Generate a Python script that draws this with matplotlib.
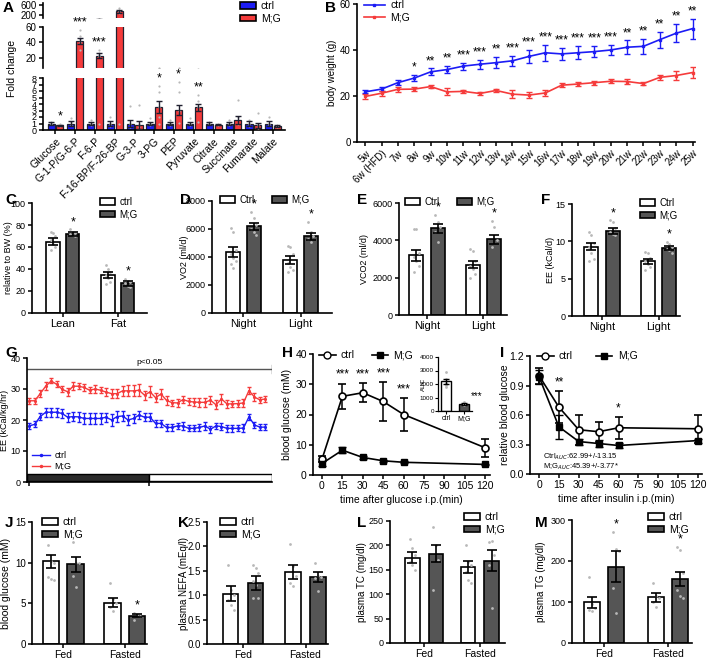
import numpy as np
import matplotlib.pyplot as plt
from matplotlib.patches import Patch, Rectangle
from matplotlib.lines import Line2D

plt.rcParams['font.family'] = ['Liberation Sans', 'DejaVu Sans']
plt.rcParams['font.size'] = 7.5
plt.rcParams['axes.linewidth'] = 1.2
plt.rcParams['xtick.major.width'] = 1.1
plt.rcParams['ytick.major.width'] = 1.1
plt.rcParams['xtick.major.size'] = 3
plt.rcParams['ytick.major.size'] = 3
plt.rcParams['xtick.major.pad'] = 1.5
plt.rcParams['ytick.major.pad'] = 1.5

BLUE = '#1c1cf5'
RED = '#f53b3b'
DARK = '#555555'
DOT = '#b8b8b8'

# ---- A: metabolites fold change
metabolites = ['Glucose', 'G-1-P/G-6-P', 'F-6-P', 'F-16-BP/F-26-BP', 'G-3-P', '3-PG',
               'PEP', 'Pyruvate', 'Citrate', 'Succinate', 'Fumarate', 'Malate']
a_ctrl = [1.0, 1.0, 1.0, 1.0, 1.0, 1.0, 1.0, 1.0, 1.0, 1.0, 1.0, 1.0]
a_ctrl_err = [0.25, 0.35, 0.25, 0.45, 0.6, 0.3, 0.25, 0.3, 0.2, 0.25, 0.35, 0.4]
a_mg = [0.7, 42, 23, 350, 0.8, 3.5, 3.1, 3.5, 0.8, 1.5, 0.7, 0.6]
a_mg_err = [0.1, 4, 3.5, 50, 0.6, 0.9, 0.8, 0.5, 0.1, 0.6, 0.35, 0.15]
a_ctrl_dots = [[1.2, 1.0, 0.9], [1.9, 1.2, 0.8], [1.5, 1.0, 0.8], [2.0, 1.0, 0.6],
               [3.7, 1.0, 0.4], [1.9, 1.0, 0.7], [1.5, 1.1, 0.8], [1.9, 1.0, 0.7],
               [1.3, 1.0], [1.5, 1.0, 0.8], [1.6, 1.0, 0.6], [2.0, 1.0, 0.7]]
a_mg_dots = [[0.9, 0.7, 0.6], [56, 48, 45, 40, 30], [30, 27, 24, 22, 1.0], [480, 420, 350, 300, 1.0],
             [3.8, 0.9, 0.5], [6.8, 5.8, 3.5, 2.0, 1.0], [7.4, 5.8, 3.0, 1.1], [5.4, 4.5, 3.5, 1.2],
             [0.9, 0.8], [4.6, 2.0, 1.0], [2.6, 0.7, 0.3], [0.8, 0.6, 0.5]]
a_stars = ['*', '***', '***', '***', '', '*', '*', '**', '', '', '', '']

# ---- B: body weight
weeks = ['5w', '6w (HFD)', '7w', '8w', '9w', '10w', '11w', '12w', '13w', '14w', '15w',
         '16w', '17w', '18w', '19w', '20w', '21w', '22w', '23w', '24w', '25w']
bw_ctrl = [21.8, 23.0, 25.8, 27.8, 30.5, 31.5, 33.0, 33.8, 34.5, 35.3, 37.2,
           38.8, 38.3, 38.8, 39.3, 40.0, 41.2, 41.6, 44.5, 47.3, 49.3]
bw_ctrl_err = [0.7, 0.7, 1.2, 1.2, 1.5, 1.5, 1.5, 2.0, 2.5, 2.2, 2.8,
               3.5, 2.5, 2.8, 2.5, 2.2, 3.0, 3.2, 3.5, 4.0, 4.3]
bw_mg = [19.8, 21.2, 22.9, 23.0, 24.1, 21.8, 22.0, 21.1, 22.4, 20.8, 20.4,
         21.3, 24.7, 25.2, 25.8, 26.4, 26.3, 25.4, 28.1, 28.9, 30.2]
bw_mg_err = [1.0, 1.0, 1.0, 1.0, 0.8, 1.5, 0.8, 0.8, 0.8, 1.8, 1.2,
             1.5, 0.8, 0.8, 0.8, 0.8, 1.0, 0.8, 1.2, 1.8, 2.5]
bw_stars = ['', '', '', '*', '**', '**', '***', '***', '**', '***', '***',
            '***', '***', '***', '***', '***', '**', '**', '**', '**', '**']

# ---- C: body composition
comp_groups = ['Lean', 'Fat']
c_ctrl, c_ctrl_err = [65, 34.5], [3, 3]
c_mg, c_mg_err = [72, 27], [2, 2]
c_ctrl_dots = [[74, 73, 70, 66, 63, 60, 57], [44, 40, 37, 35, 32, 28, 26]]
c_mg_dots = [[76, 74, 73, 72, 71, 70], [31, 29, 28, 27, 25, 24]]
c_stars = ['*', '*']

# ---- D/E/F: indirect calorimetry
phase_groups = ['Night', 'Light']
d_ctrl, d_ctrl_err = [4350, 3800], [350, 300]
d_mg, d_mg_err = [6200, 5500], [250, 250]
d_ctrl_dots = [[6100, 5800, 4500, 4200, 3900, 3700, 3500, 3200], [4800, 4700, 4200, 3600, 3300, 3100, 2900]]
d_mg_dots = [[7200, 6800, 6300, 6000, 5800, 5600], [6500, 5800, 5500, 5300, 5100]]
e_ctrl, e_ctrl_err = [3200, 2700], [300, 200]
e_mg, e_mg_err = [4650, 4050], [250, 250]
e_ctrl_dots = [[4600, 4600, 3300, 3100, 2900, 2600, 2300], [3540, 3430, 2900, 2600, 2450, 2200, 2000]]
e_mg_dots = [[5360, 4980, 4710, 4450, 3900], [5040, 4710, 4020, 3640]]
f_ctrl, f_ctrl_err = [9.3, 7.3], [0.5, 0.3]
f_mg, f_mg_err = [11.4, 9.1], [0.4, 0.3]
f_ctrl_dots = [[11.2, 10.8, 9.8, 9.3, 8.5, 7.6, 7.3], [8.6, 8.4, 7.8, 7.3, 7.0, 6.6, 6.2]]
f_mg_dots = [[12.8, 12.6, 11.8, 11.3, 11.0, 10.8], [9.9, 9.7, 9.3, 9.0, 8.8, 8.5]]
def_stars = ['*', '*']

# ---- G: EE time course
g_ctrl = [18.1, 18.6, 21.1, 22.5, 22.5, 22.5, 22.1, 20.9, 21.1, 21.0, 20.5, 20.5, 20.5, 20.5, 20.9, 20.0,
          21.1, 21.3, 20.0, 20.5, 21.6, 20.9, 20.9, 18.9, 18.9, 17.6, 17.6, 18.1, 18.1, 17.3, 17.3, 17.6,
          18.1, 17.0, 18.1, 17.9, 17.3, 17.3, 17.3, 17.4, 21.0, 18.4, 17.7, 17.7]
g_ctrl_err = [1.0, 1.0, 1.2, 1.5, 1.5, 1.5, 1.5, 1.5, 1.5, 1.5, 1.8, 1.8, 1.8, 1.8, 1.5, 2.0,
              1.8, 1.5, 1.5, 1.5, 1.2, 1.2, 1.2, 1.0, 1.2, 1.2, 1.2, 1.0, 1.2, 1.0, 1.0, 1.0,
              1.2, 1.2, 1.0, 1.0, 1.2, 1.2, 1.0, 1.2, 1.0, 1.0, 1.0, 1.0]
g_mg = [26.2, 26.2, 28.5, 30.9, 32.6, 31.5, 29.9, 29.1, 30.9, 30.9, 30.5, 29.6, 30.0, 29.6, 29.0, 28.5,
        28.5, 29.4, 29.4, 29.4, 29.6, 28.0, 29.1, 27.2, 28.4, 26.3, 25.6, 25.5, 26.6, 26.0, 25.8, 25.7,
        25.7, 26.4, 24.9, 26.8, 25.2, 25.2, 25.3, 25.5, 29.5, 27.4, 26.5, 26.8]
g_mg_err = [1.0, 1.0, 1.2, 1.2, 0.8, 1.0, 1.0, 1.2, 1.2, 1.0, 1.2, 1.0, 1.2, 1.0, 1.2, 1.5,
            1.5, 1.5, 1.8, 1.8, 2.0, 1.5, 1.8, 1.5, 1.5, 1.5, 1.0, 1.2, 1.0, 1.2, 1.2, 1.5,
            1.5, 1.2, 1.5, 1.5, 1.2, 1.0, 1.2, 1.2, 1.2, 1.2, 1.0, 1.0]

# ---- H: GTT
gtt_time = [0, 15, 30, 45, 60, 120]
gtt_ctrl = [5.2, 26.0, 27.2, 24.3, 20.0, 9.0]
gtt_ctrl_err = [1.0, 4.2, 3.2, 6.3, 5.5, 3.0]
gtt_mg = [3.8, 8.2, 5.8, 4.7, 4.2, 3.5]
gtt_mg_err = [0.8, 1.0, 0.5, 0.4, 0.3, 0.3]
gtt_stars = ['', '***', '***', '***', '***', '']
auc_groups = ['ctrl', 'M;G']
auc_vals, auc_err = [2200, 500], [180, 60]
auc_dots = [[2900, 2400, 2100, 1900, 1800], [650, 550, 500, 450]]

# ---- I: ITT
itt_time = [0, 15, 30, 45, 60, 120]
itt_ctrl = [1.0, 0.68, 0.45, 0.43, 0.47, 0.46]
itt_ctrl_err = [0.08, 0.16, 0.15, 0.10, 0.11, 0.14]
itt_mg = [0.99, 0.48, 0.33, 0.31, 0.29, 0.34]
itt_mg_err = [0.07, 0.12, 0.03, 0.04, 0.03, 0.02]
itt_stars = ['', '**', '', '', '*', '']

# ---- J-M: fed / fasted
fed_groups = ['Fed', 'Fasted']
j_ctrl, j_ctrl_err = [10.2, 5.1], [0.8, 0.5]
j_mg, j_mg_err = [9.8, 3.5], [0.9, 0.2]
j_ctrl_dots = [[12.2, 10.2, 10.0, 8.2, 8.0, 7.9], [7.5, 5.5, 5.0, 4.5, 4.0]]
j_mg_dots = [[12.6, 10.0, 9.9, 8.3, 7.0], [3.8, 3.6, 3.5, 3.0]]
j_stars = ['', '*']
k_ctrl, k_ctrl_err = [1.03, 1.48], [0.15, 0.14]
k_mg, k_mg_err = [1.25, 1.37], [0.15, 0.1]
k_ctrl_dots = [[1.62, 1.1, 1.0, 0.9, 0.8, 0.7], [2.05, 1.6, 1.4, 1.25, 1.18]]
k_mg_dots = [[1.62, 1.55, 1.45, 1.3, 1.2, 0.95, 0.95], [1.67, 1.4, 1.38, 1.35, 1.08]]
l_ctrl, l_ctrl_err = [175, 156], [12, 13]
l_mg, l_mg_err = [183, 169], [18, 22]
l_ctrl_dots = [[214, 195, 180, 165, 160, 150], [200, 165, 160, 145, 130, 122]]
l_mg_dots = [[237, 200, 170, 108], [207, 208, 180, 160, 72]]
m_ctrl, m_ctrl_err = [99, 111], [13, 10]
m_mg, m_mg_err = [186, 156], [38, 17]
m_ctrl_dots = [[160, 95, 85, 80, 78], [147, 115, 110, 100, 88]]
m_mg_dots = [[270, 230, 225, 135, 72], [235, 228, 170, 130, 115, 110]]
m_stars = ['*', '*']

W, H = 709, 658
fig = plt.figure(figsize=(W / 100, H / 100), dpi=100)


def px_axes(l, t, r, b, ts=7.5):
    ax = fig.add_axes([l / W, 1 - b / H, (r - l) / W, (b - t) / H])
    ax.spines[['top', 'right']].set_visible(False)
    ax.tick_params(labelsize=ts)
    ax.patch.set_visible(False)
    return ax


def ylab(ax, text, xc, size=7.5):
    # xc: horizontal centre of the rotated label, in figure pixels
    ax.set_ylabel(text, fontsize=size)
    pos = ax.get_position()
    ax.yaxis.set_label_coords(xc / W + size * 0.6 / W, pos.y0 + pos.height / 2,
                              transform=fig.transFigure)


def letter(x, y, s):
    fig.text(x / W, 1 - y / H, s, fontsize=11, fontweight='bold', va='top', ha='left')


def legend_at(ax, handles, labels, x, y, ncol=1, hl=1.5, cs=1.5, size=7.5):
    ax.legend(handles, labels, loc='upper left', bbox_to_anchor=(x / W, 1 - y / H),
              bbox_transform=fig.transFigure, ncol=ncol, frameon=False, handlelength=hl,
              handleheight=0.6, handletextpad=0.5, borderpad=0, borderaxespad=0,
              labelspacing=0.25, columnspacing=cs, fontsize=size)


def bar_handles(c1, c2):
    return [Patch(facecolor=c1, edgecolor='black', lw=1.2), Patch(facecolor=c2, edgecolor='black', lw=1.2)]


def bar_panel(ax, groups, cm, ce, mm, me, cd, md, stars, off, width, cols=('white', DARK), xs_size=8):
    x = np.arange(len(groups))
    for sign, m, e, dots, col in [(-1, cm, ce, cd, cols[0]), (1, mm, me, md, cols[1])]:
        xs = x + sign * off
        ax.bar(xs, m, width, color=col, edgecolor='black', linewidth=1.2, zorder=2)
        for xi, d in zip(xs, dots):
            jit = ((np.arange(len(d)) % 3) - 1) * width * 0.18
            ax.scatter(xi + jit, d, s=4, color=DOT, zorder=3, linewidths=0)
        ax.errorbar(xs, m, yerr=e, fmt='none', ecolor='black', elinewidth=1.2,
                    capsize=3.5, capthick=1.2, zorder=4)
    for xi, s, m, e, d in zip(x + off, stars, mm, me, md):
        if s:
            ax.annotate(s, (xi, max(m + e, max(d))), xytext=(0, 1), textcoords='offset points',
                        ha='center', va='bottom', fontsize=9)
    ax.set_xticks(x)
    ax.set_xticklabels(groups, fontsize=xs_size)


# ================= A
a_bot = px_axes(43, 78, 285, 130, 6.5)
a_mid = px_axes(43, 27, 285, 68, 7)
a_top = px_axes(43, 3, 285, 18, 7)
xa = np.arange(len(metabolites))
for ax in (a_bot, a_mid, a_top):
    for sign, m, e, dots, col in [(-1, a_ctrl, a_ctrl_err, a_ctrl_dots, BLUE),
                                  (1, a_mg, a_mg_err, a_mg_dots, RED)]:
        xs = xa + sign * 0.22
        ax.bar(xs, m, 0.36, color=col, edgecolor='#202030', linewidth=0.9, zorder=2)
        for xi, d in zip(xs, dots):
            ax.scatter(np.full(len(d), xi), d, s=2.5, color=DOT, zorder=3, linewidths=0)
        ax.errorbar(xs, m, yerr=e, fmt='none', ecolor='#202030', elinewidth=1.0,
                    capsize=2, capthick=1.0, zorder=4)
    ax.set_xlim(-0.63, 11.6)
a_bot.set_ylim(0, 8)
a_bot.set_yticks(range(9))
a_mid.set_ylim(7, 60)
a_mid.set_yticks([20, 40, 60])
a_top.set_ylim(80, 680)
a_top.set_yticks([200, 600])
for ax in (a_mid, a_top):
    ax.spines['bottom'].set_visible(False)
    ax.set_xticks([])
a_bot.set_xticks(xa)
a_bot.set_xticklabels(metabolites, rotation=45, ha='right', rotation_mode='anchor', fontsize=7.5)
for i, s in enumerate(a_stars):
    if s:
        top = max(a_mg[i] + a_mg_err[i], max(a_mg_dots[i]))
        ax = a_bot if top < 8 else (a_mid if top < 60 else a_top)
        ax.annotate(s, (i + 0.22, top), xytext=(0, 1), textcoords='offset points',
                    ha='center', va='bottom', fontsize=9, annotation_clip=False)
fig.text(12 / W, 1 - 68 / H, 'Fold change', rotation=90, va='center', ha='center', fontsize=7.5)
legend_at(a_top, bar_handles(BLUE, RED), ['ctrl', 'M;G'], 240, 1)
letter(3, 1, 'A')

# ================= B
b = px_axes(357, 4, 695, 142, 7)
xb = np.arange(len(weeks))
b.errorbar(xb, bw_ctrl, yerr=bw_ctrl_err, color=BLUE, marker='s', ms=2, lw=1.2,
           capsize=2, elinewidth=1)
b.errorbar(xb, bw_mg, yerr=bw_mg_err, color=RED, marker='s', ms=2, lw=1.2,
           capsize=2, elinewidth=1)
for i, s in enumerate(bw_stars):
    if s:
        b.annotate(s, (i, bw_ctrl[i] + bw_ctrl_err[i]), xytext=(0, 1), textcoords='offset points',
                   ha='center', va='bottom', fontsize=8.5)
b.set_xlim(-0.5, 20.15)
b.set_ylim(0, 60)
b.set_yticks([0, 20, 40, 60])
b.set_xticks(xb)
b.set_xticklabels(weeks, rotation=45, ha='right', rotation_mode='anchor')
ylab(b, 'body weight (g)', 333, 7)
legend_at(b, [Line2D([], [], color=BLUE, marker='s', ms=2, lw=1.2),
              Line2D([], [], color=RED, marker='s', ms=2, lw=1.2)], ['ctrl', 'M;G'], 364, 0, hl=2)
letter(325, 1, 'B')

# ================= C
c = px_axes(32, 203, 147, 313, 6.5)
bar_panel(c, comp_groups, c_ctrl, c_ctrl_err, c_mg, c_mg_err, c_ctrl_dots, c_mg_dots,
          c_stars, 0.18, 0.24)
c.set_xlim(-0.56, 1.53)
c.set_ylim(0, 100)
c.set_yticks(range(0, 101, 20))
ylab(c, 'relative to BW (%)', 9, 6.5)
legend_at(c, bar_handles('white', DARK), ['ctrl', 'M;G'], 100, 197, size=7)
letter(5, 193, 'C')

# ================= D
d = px_axes(212, 201, 332, 313, 6.5)
bar_panel(d, phase_groups, d_ctrl, d_ctrl_err, d_mg, d_mg_err, d_ctrl_dots, d_mg_dots,
          def_stars, 0.18, 0.25)
d.set_xlim(-0.55, 1.55)
d.set_ylim(0, 8000)
d.set_yticks(range(0, 8001, 2000))
ylab(d, 'VO2 (ml/d)', 185, 6.5)
legend_at(d, bar_handles('white', DARK), ['Ctrl', 'M;G'], 220, 195, ncol=2, cs=1.8, size=7)
letter(180, 193, 'D')

# ================= E
e = px_axes(399, 203, 507, 315, 6.5)
bar_panel(e, phase_groups, e_ctrl, e_ctrl_err, e_mg, e_mg_err, e_ctrl_dots, e_mg_dots,
          def_stars, 0.19, 0.25)
e.set_xlim(-0.5, 1.42)
e.set_ylim(0, 6000)
e.set_yticks(range(0, 6001, 2000))
ylab(e, 'VCO2 (ml/d)', 365, 6.5)
legend_at(e, bar_handles('white', DARK), ['Ctrl', 'M;G'], 405, 197, ncol=2, cs=1.8, size=7)
letter(357, 193, 'E')

# ================= F
f = px_axes(572, 204, 680, 316, 6.5)
bar_panel(f, phase_groups, f_ctrl, f_ctrl_err, f_mg, f_mg_err, f_ctrl_dots, f_mg_dots,
          def_stars, 0.19, 0.25)
f.set_xlim(-0.53, 1.38)
f.set_ylim(0, 15)
f.set_yticks([0, 5, 10, 15])
ylab(f, 'EE (kCal/d)', 551, 6.5)
legend_at(f, bar_handles('white', DARK), ['Ctrl', 'M;G'], 640, 198, size=7)
letter(541, 193, 'F')

# ================= G
g = px_axes(27, 358, 272, 482, 6.5)
xg = np.arange(len(g_ctrl))
g.errorbar(xg, g_mg, yerr=g_mg_err, color=RED, marker='.', ms=2.5, lw=1.0,
           capsize=1.5, elinewidth=0.9)
g.errorbar(xg, g_ctrl, yerr=g_ctrl_err, color=BLUE, marker='.', ms=2.5, lw=1.0,
           capsize=1.5, elinewidth=0.9)
half = len(xg) / 2 - 0.2
x_end = len(xg) + 0.2
g.add_patch(Rectangle((-0.4, 0.3), half + 0.4, 2.4, facecolor='#2b2b2b', edgecolor='black', lw=1))
g.add_patch(Rectangle((half, 0.3), x_end - half, 2.4, facecolor='white', edgecolor='black', lw=1))
g.plot([-0.4, x_end], [36.5, 36.5], color='#555555', lw=1)
g.plot([x_end, x_end], [35.2, 37.8], color='#555555', lw=1)
g.text((x_end - 0.4) / 2, 37.3, 'p<0.05', ha='center', va='bottom', fontsize=6)
g.set_xlim(-0.4, x_end)
g.set_ylim(0, 40)
g.set_yticks([0, 10, 20, 30, 40])
g.set_xticks([0, half])
g.set_xticklabels(['', ''])
ylab(g, 'EE (kCal/kg/hr)', 5, 6.5)
legend_at(g, [Line2D([], [], color=BLUE, marker='.', ms=3, lw=1),
              Line2D([], [], color=RED, marker='.', ms=3, lw=1)], ['ctrl', 'M;G'], 32, 451,
          hl=2, size=6.5)
letter(5, 346, 'G')

# ================= H
h = px_axes(313, 354, 490, 475, 7.5)
h.errorbar(gtt_time, gtt_ctrl, yerr=gtt_ctrl_err, color='black', marker='o', ms=5, mfc='white',
           mew=1.2, lw=1.2, capsize=3, elinewidth=1.1, zorder=3)
h.errorbar(gtt_time, gtt_mg, yerr=gtt_mg_err, color='black', marker='s', ms=5, lw=1.2,
           capsize=3, elinewidth=1.1, zorder=3)
for t, s, m, er in zip(gtt_time, gtt_stars, gtt_ctrl, gtt_ctrl_err):
    if s:
        h.annotate(s, (t, m + er), xytext=(0, 2), textcoords='offset points',
                   ha='center', va='bottom', fontsize=8.5)
h.set_xlim(-6.6, 123.5)
h.set_ylim(0, 40)
h.set_xticks(range(0, 121, 15))
h.set_yticks(range(0, 41, 10))
h.set_xlabel('time after glucose i.p.(min)', labelpad=3)
ylab(h, 'blood glucose (mM)', 287)
legend_at(h, [Line2D([], [], color='black', marker='o', ms=5, mfc='white', lw=1.2),
              Line2D([], [], color='black', marker='s', ms=5, lw=1.2)], ['ctrl', 'M;G'], 319, 350,
          ncol=2, hl=1.6, cs=1.6)
letter(282, 346, 'H')

hi = px_axes(438, 357, 472, 411, 4.5)
xi_ = np.arange(len(auc_groups))
hi.bar(xi_, auc_vals, 0.55, color=['white', DARK], edgecolor='black', lw=1)
for xx, dd in zip(xi_, auc_dots):
    hi.scatter(np.full(len(dd), xx), dd, s=4, color=DOT, zorder=3, linewidths=0)
hi.errorbar(xi_, auc_vals, yerr=auc_err, fmt='none', ecolor='black', elinewidth=1, capsize=2, zorder=4)
hi.annotate('***', (1, auc_vals[1] + auc_err[1]), xytext=(5, 2), textcoords='offset points',
            ha='left', va='bottom', fontsize=7)
hi.set_xlim(-0.45, 1.45)
hi.set_ylim(0, 4000)
hi.set_yticks(range(0, 4001, 1000))
hi.set_xticks(xi_)
hi.set_xticklabels(auc_groups, fontsize=5)
hi.tick_params(length=2, pad=1, width=0.8)
for sp in hi.spines.values():
    sp.set_linewidth(0.9)
ylab(hi, 'AUC', 423, 4.5)

# ================= I
it = px_axes(530, 356, 702, 474, 7.5)
it.errorbar(itt_time, itt_ctrl, yerr=itt_ctrl_err, color='black', marker='o', ms=5, mfc='white',
            mew=1.2, lw=1.2, capsize=3, elinewidth=1.1, zorder=3)
it.errorbar(itt_time, itt_mg, yerr=itt_mg_err, color='black', marker='s', ms=5, lw=1.2,
            capsize=3, elinewidth=1.1, zorder=3)
for t, s, m, er in zip(itt_time, itt_stars, itt_ctrl, itt_ctrl_err):
    if s:
        it.annotate(s, (t, m + er), xytext=(0, 2), textcoords='offset points',
                    ha='center', va='bottom', fontsize=8.5)
it.text(3, 0.175, 'Ctrl$_{AUC}$:62.99+/-13.15', fontsize=5.5, va='center')
it.text(3, 0.075, 'M;G$_{AUC}$:45.39+/-3.77*', fontsize=5.5, va='center')
it.set_xlim(-6.8, 123)
it.set_ylim(0, 1.2)
it.set_yticks([0, 0.3, 0.6, 0.9, 1.2])
it.set_yticklabels(['0.0', '0.3', '0.6', '0.9', '1.2'])
it.set_xticks(range(0, 121, 15))
it.set_xlabel('time after insulin i.p.(min)', labelpad=3)
ylab(it, 'relative blood glucose', 506)
legend_at(it, [Line2D([], [], color='black', marker='o', ms=5, mfc='white', lw=1.2),
               Line2D([], [], color='black', marker='s', ms=5, lw=1.2)], ['ctrl', 'M;G'], 537, 351,
          ncol=2, hl=1.6, cs=2.2)
letter(500, 346, 'I')

# ================= J
j = px_axes(32, 522, 147, 644, 7)
bar_panel(j, fed_groups, j_ctrl, j_ctrl_err, j_mg, j_mg_err, j_ctrl_dots, j_mg_dots,
          j_stars, 0.2, 0.27, xs_size=7.5)
j.set_xlim(-0.51, 1.36)
j.set_ylim(0, 15)
j.set_yticks([0, 5, 10, 15])
ylab(j, 'blood glucose (mM)', 7)
legend_at(j, bar_handles('white', DARK), ['ctrl', 'M;G'], 42, 517)
letter(5, 516, 'J')

# ================= K
k = px_axes(207, 522, 328, 644, 7)
bar_panel(k, fed_groups, k_ctrl, k_ctrl_err, k_mg, k_mg_err, k_ctrl_dots, k_mg_dots,
          ['', ''], 0.2, 0.25, xs_size=7.5)
k.set_xlim(-0.58, 1.36)
k.set_ylim(0, 2.5)
k.set_yticks([0, 0.5, 1.0, 1.5, 2.0, 2.5])
k.set_yticklabels(['0.0', '0.5', '1.0', '1.5', '2.0', '2.5'])
ylab(k, 'plasma NEFA (mEq/l)', 185, 7)
legend_at(k, bar_handles('white', DARK), ['ctrl', 'M;G'], 220, 517)
letter(178, 516, 'K')

# ================= L
l = px_axes(390, 521, 505, 643, 6.5)
bar_panel(l, fed_groups, l_ctrl, l_ctrl_err, l_mg, l_mg_err, l_ctrl_dots, l_mg_dots,
          ['', ''], 0.21, 0.26, xs_size=7.5)
l.set_xlim(-0.61, 1.45)
l.set_ylim(0, 250)
l.set_yticks(range(0, 251, 50))
ylab(l, 'plasma TC (mg/dl)', 363, 7)
legend_at(l, bar_handles('white', DARK), ['ctrl', 'M;G'], 464, 512)
letter(357, 516, 'L')

# ================= M
mm = px_axes(572, 520, 692, 643, 6.5)
bar_panel(mm, fed_groups, m_ctrl, m_ctrl_err, m_mg, m_mg_err, m_ctrl_dots, m_mg_dots,
          m_stars, 0.19, 0.24, xs_size=7.5)
mm.set_xlim(-0.5, 1.375)
mm.set_ylim(0, 300)
mm.set_yticks([0, 100, 200, 300])
ylab(mm, 'plasma TG (mg/dl)', 542, 7)
legend_at(mm, bar_handles('white', DARK), ['ctrl', 'M;G'], 648, 512)
letter(535, 516, 'M')

for ax in (j, k, l, mm):
    ax.tick_params(axis='x', pad=1)

fig.savefig('out.png', dpi=100)
